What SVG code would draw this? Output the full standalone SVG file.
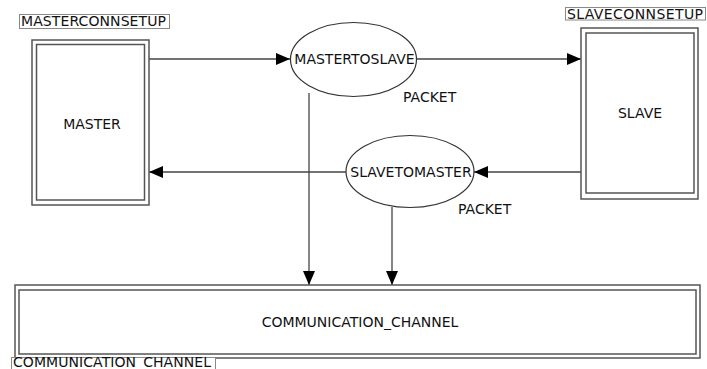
<svg xmlns="http://www.w3.org/2000/svg" width="707" height="369" viewBox="0 0 707 369">
  <style>
    text { font-family: "DejaVu Sans", Verdana, sans-serif; font-size: 14px; fill: #111; }
    .outer { fill: #fff; stroke: #555; stroke-width: 1.5; }
    .inner { fill: none; stroke: #555; stroke-width: 1.5; }
    .tag { fill: #fff; stroke: #888; stroke-width: 1; }
    .proc { fill: #fff; stroke: #333; stroke-width: 1.2; }
    .wire { fill: none; stroke: #444; stroke-width: 1.3; }
  </style>
  <defs>
    <marker id="head" viewBox="0 0 14 12" refX="14" refY="6" markerWidth="14" markerHeight="12" markerUnits="userSpaceOnUse" orient="auto">
      <path d="M0,0 L14,6 L0,12 Z" fill="#000"/>
    </marker>
  </defs>
  <rect width="707" height="369" fill="#fff"/>

  <g id="connectors">
    <line class="wire" x1="149" y1="59" x2="290" y2="59" marker-end="url(#head)"/>
    <line class="wire" x1="417" y1="59" x2="581" y2="59" marker-end="url(#head)"/>
    <line class="wire" x1="581" y1="172" x2="474" y2="172" marker-end="url(#head)"/>
    <line class="wire" x1="346" y1="172" x2="149" y2="172" marker-end="url(#head)"/>
    <line class="wire" x1="309" y1="93" x2="309" y2="285" marker-end="url(#head)"/>
    <line class="wire" x1="392" y1="207" x2="392" y2="285" marker-end="url(#head)"/>
  </g>

  <g id="master">
    <rect class="tag" x="19.5" y="14.5" width="150" height="14"/>
    <text x="21" y="26" textLength="145">MASTERCONNSETUP</text>
    <rect class="outer" x="32" y="40" width="117" height="165"/>
    <rect class="inner" x="36.5" y="44.5" width="108" height="155.5"/>
    <text x="92" y="129" text-anchor="middle">MASTER</text>
  </g>

  <g id="slave">
    <rect class="tag" x="565.5" y="7.5" width="140" height="12.5"/>
    <text x="567" y="18.5" textLength="136">SLAVECONNSETUP</text>
    <rect class="outer" x="581" y="28" width="117" height="171"/>
    <rect class="inner" x="586" y="33" width="108" height="160"/>
    <text x="640" y="118" text-anchor="middle">SLAVE</text>
  </g>

  <g id="mastertoslave">
    <ellipse class="proc" cx="353.5" cy="59.5" rx="63" ry="37"/>
    <text x="354.5" y="64" text-anchor="middle">MASTERTOSLAVE</text>
    <text x="403" y="102">PACKET</text>
  </g>

  <g id="slavetomaster">
    <ellipse class="proc" cx="410" cy="171.5" rx="64" ry="36"/>
    <text x="411" y="177" text-anchor="middle">SLAVETOMASTER</text>
    <text x="458" y="214">PACKET</text>
  </g>

  <g id="communication_channel">
    <rect class="outer" x="15" y="285" width="685" height="73"/>
    <rect class="inner" x="19" y="290" width="677" height="64"/>
    <text x="360" y="327" text-anchor="middle">COMMUNICATION_CHANNEL</text>
    <rect class="tag" x="11.5" y="357.5" width="204" height="14"/>
    <text x="13" y="367" textLength="198">COMMUNICATION_CHANNEL</text>
  </g>
</svg>
